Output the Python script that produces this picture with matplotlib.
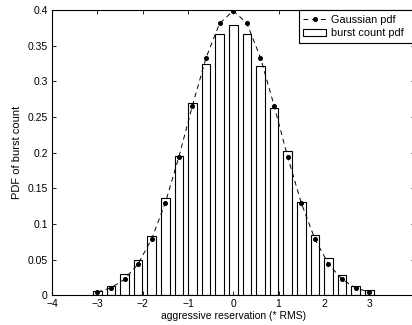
import matplotlib
matplotlib.use("Agg")
import matplotlib.pyplot as plt
from matplotlib.ticker import FormatStrFormatter

# bin centres (in RMS units)
bin_centers = [-3.0, -2.7, -2.4, -2.1, -1.8, -1.5, -1.2, -0.9, -0.6, -0.3, 0.0,
               0.3, 0.6, 0.9, 1.2, 1.5, 1.8, 2.1, 2.4, 2.7, 3.0]

# measured burst count pdf
burst_pdf = [0.0064, 0.013, 0.0297, 0.0489, 0.0838, 0.136, 0.196, 0.270, 0.324, 0.367, 0.379,
             0.367, 0.321, 0.263, 0.202, 0.131, 0.085, 0.0517, 0.0284, 0.0126, 0.007]

# gaussian pdf sampled at the same points
gauss_pdf = [0.0044, 0.0104, 0.0224, 0.0440, 0.0790, 0.1295, 0.1942, 0.2661, 0.3332, 0.3814, 0.3989,
             0.3814, 0.3332, 0.2661, 0.1942, 0.1295, 0.0790, 0.0440, 0.0224, 0.0104, 0.0044]

x_ticks = [-4, -3, -2, -1, 0, 1, 2, 3, 4]
y_ticks = [0, 0.05, 0.1, 0.15, 0.2, 0.25, 0.3, 0.35, 0.4]

plt.rcParams["font.family"] = ["Liberation Sans", "DejaVu Sans"]
plt.rcParams["font.size"] = 7.5

fig = plt.figure(figsize=(4.12, 3.25), dpi=100)
# axes runs a little past the right edge, like the original
ax = fig.add_axes([0.1262, 0.0914, 0.880, 0.8778])

ax.plot(bin_centers, gauss_pdf, linestyle=(0, (5, 4)), color="black", linewidth=0.7,
        marker="o", markersize=2.6, label="Gaussian pdf")
ax.bar(bin_centers, burst_pdf, width=0.19, color="white", edgecolor="black",
       linewidth=0.8, label="burst count pdf")

ax.set_xlim(-4, 4)
ax.set_ylim(0, 0.4)
ax.set_xticks(x_ticks)
ax.set_yticks(y_ticks)
ax.yaxis.set_major_formatter(FormatStrFormatter("%g"))
ax.tick_params(direction="in", top=True, right=True, length=3, width=0.6, pad=3)
for s in ax.spines.values():
    s.set_linewidth(0.8)

ax.set_xlabel("aggressive reservation (* RMS)", labelpad=1)
ax.set_ylabel("PDF of burst count", labelpad=4, fontsize=8)

leg = ax.legend(loc="upper left", bbox_to_anchor=(0.68, 1.0, 0.32, 0.0), mode="expand",
                borderaxespad=0, fancybox=False, framealpha=1,
                edgecolor="black", numpoints=1, handlelength=2.1, handletextpad=0.45,
                borderpad=0.45, labelspacing=0.3, fontsize=7.8)
leg.get_frame().set_linewidth(0.8)

fig.savefig("out.png", dpi=100)
plt.close()
